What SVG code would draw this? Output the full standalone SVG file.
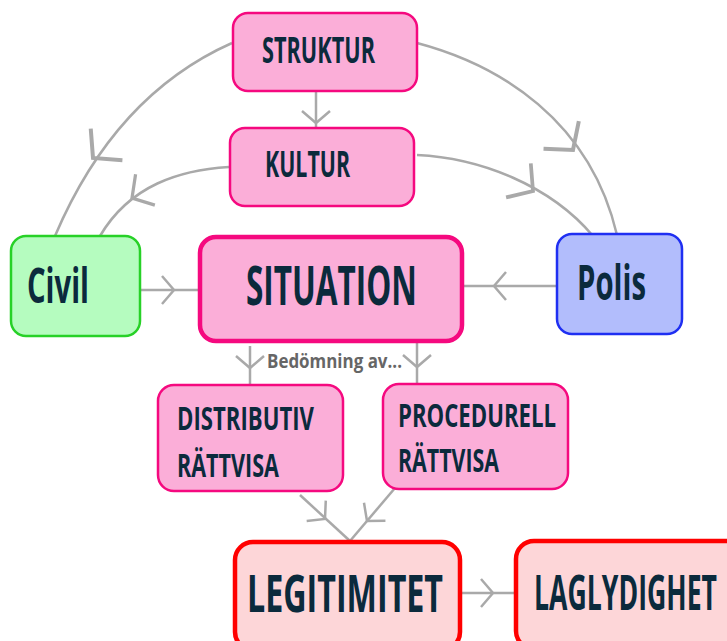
<svg xmlns="http://www.w3.org/2000/svg" xmlns:xlink="http://www.w3.org/1999/xlink" width="727" height="641" viewBox="0 0 727 641">
<style>
.lbl{font-family:"Open Sans","Liberation Sans",sans-serif;font-weight:bold;fill:#0b2a3c;lengthAdjust:spacingAndGlyphs}
.pink{fill:#fbaed8;stroke:#f5097f;stroke-width:2.5}
.red{fill:#fdd6d8;stroke:#ff0000;stroke-width:4.5}
.conn{fill:none;stroke:#a9a9a9;stroke-width:2.5}
</style>
<defs>
<path id="chev" d="M-12,-14 L0,0 L-12,14" fill="none" stroke="#a9a9a9" stroke-width="2.5"/>
</defs>
<rect width="727" height="641" fill="#ffffff"/>
<g id="connectors">
<path class="conn" d="M232,43 C160,75 98,135 55,236"/>
<path class="conn" d="M229,167 C180,170 130,185 100,236"/>
<path class="conn" d="M417,43 C500,65 590,120 617,235"/>
<path class="conn" d="M417,155 C480,158 550,185 593,236"/>
<path class="conn" d="M316,91 L316,127"/>
<path class="conn" d="M140,290 L199,290"/>
<path class="conn" d="M462,286 L557,286"/>
<path class="conn" d="M250,346 L250,385"/>
<path class="conn" d="M417,342 L417,384"/>
<path class="conn" d="M300,495 L350,541"/>
<path class="conn" d="M395,488 L350,541"/>
<path class="conn" d="M460,593 L515,593"/>
<use xlink:href="#chev" transform="translate(93,158) rotate(135) scale(1.6)"/>
<use xlink:href="#chev" transform="translate(132,198) rotate(148) scale(1.3)"/>
<use xlink:href="#chev" transform="translate(573,150) rotate(52) scale(1.6)"/>
<use xlink:href="#chev" transform="translate(533,191) rotate(36) scale(1.5)"/>
<use xlink:href="#chev" transform="translate(316,123) rotate(90)"/>
<use xlink:href="#chev" transform="translate(174,290)"/>
<use xlink:href="#chev" transform="translate(494,286) rotate(180)"/>
<use xlink:href="#chev" transform="translate(250,368) rotate(90)"/>
<use xlink:href="#chev" transform="translate(417,367) rotate(90)"/>
<use xlink:href="#chev" transform="translate(325,519) rotate(43)"/>
<use xlink:href="#chev" transform="translate(367,521) rotate(130)"/>
<use xlink:href="#chev" transform="translate(493,593)"/>
<text x="267" y="368" font-family="'Open Sans','Liberation Sans',sans-serif" font-weight="bold" font-size="19" fill="#666666" textLength="135" lengthAdjust="spacingAndGlyphs">Bedömning av...</text>
</g>
<g id="struktur">
<rect class="pink" x="233" y="13" width="184" height="78" rx="15"/>
<text class="lbl" x="262" y="63" font-size="36" textLength="113" lengthAdjust="spacingAndGlyphs">STRUKTUR</text>
</g>
<g id="kultur">
<rect class="pink" x="230" y="128" width="184" height="78" rx="15"/>
<text class="lbl" x="265" y="177" font-size="35" textLength="85" lengthAdjust="spacingAndGlyphs">KULTUR</text>
</g>
<g id="civil">
<rect x="11" y="236" width="129" height="100" rx="15" fill="#b5fcbf" stroke="#27d127" stroke-width="2.5"/>
<text class="lbl" x="27" y="303" font-size="49" textLength="62" lengthAdjust="spacingAndGlyphs">Civil</text>
</g>
<g id="situation">
<rect x="200" y="237" width="262" height="104" rx="16" fill="#fbaed8" stroke="#f5097f" stroke-width="4.5"/>
<text class="lbl" x="246" y="305" font-size="53" textLength="171" lengthAdjust="spacingAndGlyphs">SITUATION</text>
</g>
<g id="polis">
<rect x="557" y="234" width="125" height="100" rx="15" fill="#b2bdfc" stroke="#1f2ff2" stroke-width="2.5"/>
<text class="lbl" x="577" y="300" font-size="49" textLength="69" lengthAdjust="spacingAndGlyphs">Polis</text>
</g>
<g id="distributiv">
<rect class="pink" x="158" y="385" width="185" height="106" rx="16"/>
<text class="lbl" x="177" y="430" font-size="32" textLength="137" lengthAdjust="spacingAndGlyphs">DISTRIBUTIV</text>
<text class="lbl" x="177" y="477" font-size="32" textLength="102" lengthAdjust="spacingAndGlyphs">RÄTTVISA</text>
</g>
<g id="procedurell">
<rect class="pink" x="383" y="384" width="185" height="105" rx="16"/>
<text class="lbl" x="398" y="427" font-size="32" textLength="158" lengthAdjust="spacingAndGlyphs">PROCEDURELL</text>
<text class="lbl" x="398" y="472" font-size="32" textLength="101" lengthAdjust="spacingAndGlyphs">RÄTTVISA</text>
</g>
<g id="legitimitet">
<rect class="red" x="235" y="542" width="225" height="108" rx="18"/>
<text class="lbl" x="247" y="612" font-size="52" textLength="196" lengthAdjust="spacingAndGlyphs">LEGITIMITET</text>
</g>
<g id="laglydighet">
<rect class="red" x="516" y="541" width="230" height="108" rx="18"/>
<text class="lbl" x="534" y="610" font-size="48" textLength="183" lengthAdjust="spacingAndGlyphs">LAGLYDIGHET</text>
</g>
</svg>
